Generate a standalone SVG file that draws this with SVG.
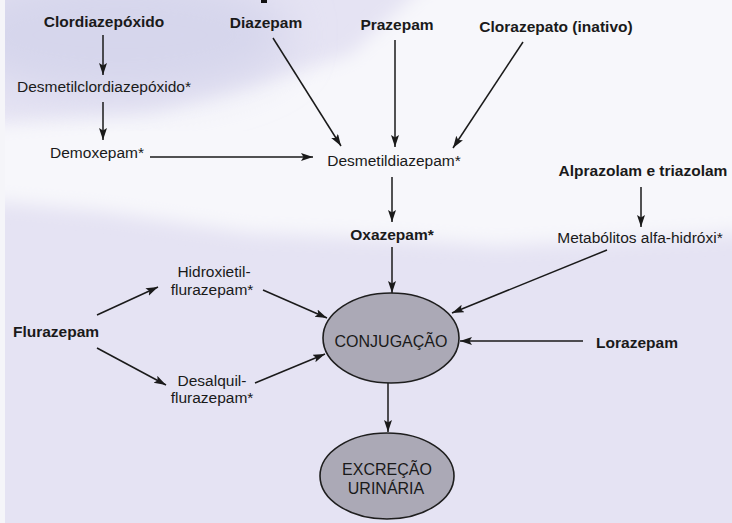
<svg xmlns="http://www.w3.org/2000/svg" width="732" height="523" viewBox="0 0 732 523">
<defs>
<style>
.t{font-family:"Liberation Sans",Arial,sans-serif;font-size:15.5px;fill:#1a1a1a;text-anchor:middle}
.b{font-weight:bold}
.n{font-size:16px}
.c{stroke:#1a1a1a;stroke-width:1.5;fill:none;marker-end:url(#ah)}
.e{fill:#aba9b6;stroke:#1e1e1e;stroke-width:1.6}
</style>
<marker id="ah" markerUnits="userSpaceOnUse" markerWidth="14" markerHeight="10" refX="12" refY="4" orient="auto">
<path d="M0,0 L12,4 L0,8 L2.5,4 Z" fill="#1a1a1a"/>
</marker>
<filter id="blur" x="-20%" y="-20%" width="140%" height="140%"><feGaussianBlur stdDeviation="9"/></filter>
<filter id="blur2" x="-30%" y="-30%" width="160%" height="160%"><feGaussianBlur stdDeviation="22"/></filter>
</defs>
<g id="background">
<rect x="0" y="0" width="732" height="523" fill="#e5e3f3"/>
<path d="M430,-20 L760,-20 L760,232 L500,246 L400,239 L250,233 L100,211 L-20,200 L-20,125 L150,112 L250,85 L350,55 Z" fill="#f7f7fb" filter="url(#blur)"/>
<ellipse cx="120" cy="35" rx="170" ry="60" fill="#d6d6ec" filter="url(#blur2)"/>
<rect x="0" y="0" width="5" height="523" fill="#f5f5f9"/>
<rect x="261" y="0" width="6" height="3" fill="#111"/>
</g>
<g id="connectors">
<line class="c" x1="103" y1="35" x2="103" y2="75"/>
<line class="c" x1="103" y1="102" x2="103" y2="140"/>
<line class="c" x1="150" y1="157" x2="313" y2="157"/>
<line class="c" x1="273" y1="38" x2="341" y2="146"/>
<line class="c" x1="395" y1="40" x2="395" y2="147"/>
<line class="c" x1="523" y1="42" x2="453" y2="148"/>
<line class="c" x1="392" y1="177" x2="392" y2="222"/>
<line class="c" x1="392" y1="247" x2="392" y2="293"/>
<line class="c" x1="641" y1="187" x2="641" y2="227"/>
<line class="c" x1="607" y1="250" x2="452" y2="313"/>
<line class="c" x1="583" y1="341" x2="460" y2="341"/>
<line class="c" x1="97" y1="315" x2="158" y2="287"/>
<line class="c" x1="97" y1="348" x2="166" y2="385"/>
<line class="c" x1="263" y1="290" x2="327" y2="318"/>
<line class="c" x1="255" y1="383" x2="325" y2="354"/>
<line class="c" x1="388" y1="383" x2="388" y2="432"/>
</g>
<g id="clordiazepoxido"><text class="t b" x="104" y="27">Clordiazepóxido</text></g>
<g id="diazepam"><text class="t b" x="266" y="28">Diazepam</text></g>
<g id="prazepam"><text class="t b" x="397" y="30">Prazepam</text></g>
<g id="clorazepato"><text class="t b" x="556" y="32">Clorazepato (inativo)</text></g>
<g id="desmetilclordiazepoxido"><text class="t" x="104" y="92">Desmetilclordiazepóxido*</text></g>
<g id="demoxepam"><text class="t" x="97" y="158">Demoxepam*</text></g>
<g id="desmetildiazepam"><text class="t" x="394" y="166">Desmetildiazepam*</text></g>
<g id="alprazolam"><text class="t b" x="643" y="176">Alprazolam e triazolam</text></g>
<g id="oxazepam"><text class="t b" x="392" y="240">Oxazepam*</text></g>
<g id="metabolitos"><text class="t" x="640" y="243">Metabólitos alfa-hidróxi*</text></g>
<g id="hidroxietilflurazepam">
<text class="t" x="214" y="277">Hidroxietil-</text>
<text class="t" x="212" y="295">flurazepam*</text>
</g>
<g id="flurazepam"><text class="t b" x="56" y="337">Flurazepam</text></g>
<g id="lorazepam"><text class="t b" x="637" y="348">Lorazepam</text></g>
<g id="desalquilflurazepam">
<text class="t" x="212" y="386">Desalquil-</text>
<text class="t" x="212" y="403">flurazepam*</text>
</g>
<g id="conjugacao">
<ellipse class="e" cx="391" cy="338" rx="68" ry="45"/>
<text class="t n" x="391" y="347">CONJUGAÇÃO</text>
</g>
<g id="excrecao">
<ellipse class="e" cx="387" cy="476" rx="67" ry="43"/>
<text class="t n" x="387" y="475">EXCREÇÃO</text>
<text class="t n" x="386" y="494">URINÁRIA</text>
</g>
</svg>
